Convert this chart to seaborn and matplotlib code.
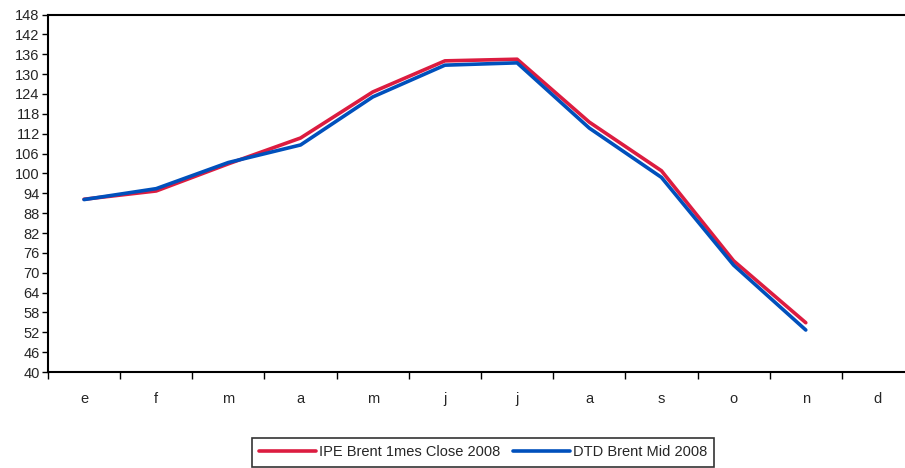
# Brent 2008: IPE vs DTD, mensual

import numpy as np
import pandas as pd
import matplotlib
matplotlib.use("Agg")
import matplotlib.pyplot as plt
from matplotlib.ticker import FixedLocator
import seaborn as sns

meses = ["e", "f", "m", "a", "m", "j", "j", "a", "s", "o", "n", "d"]
ipe_brent = [92.2, 94.7, 102.9, 110.7, 124.6, 134.0, 134.5, 115.5, 100.8, 73.6, 54.9, np.nan]
dtd_brent = [92.1, 95.4, 103.3, 108.6, 123.1, 132.7, 133.4, 113.7, 98.8, 72.3, 52.7, np.nan]
series = ["IPE Brent 1mes Close 2008", "DTD Brent Mid 2008"]
yticks = list(range(40, 149, 6))

df = pd.DataFrame({
    "pos": list(range(12)) * 2,
    "valor": ipe_brent + dtd_brent,
    "serie": [series[0]] * 12 + [series[1]] * 12,
})

sns.set_style("white")
plt.rcParams["font.family"] = ["Liberation Sans", "DejaVu Sans"]

fig = plt.figure(figsize=(9.05, 4.68), dpi=100)
# el eje sigue un poco fuera de la imagen por la derecha, como en el original
ax = fig.add_axes([0.053, 0.205, 0.957, 0.764])

sns.lineplot(data=df, x="pos", y="valor", hue="serie", ax=ax,
             palette={series[0]: "#DC1C40", series[1]: "#0050BC"},
             linewidth=2.6, legend=True)

ax.set_xlim(-0.5, 11.5)
ax.set_ylim(40, 148)
ax.set_yticks(yticks)
ax.set_yticklabels([str(t) for t in yticks], fontsize=10.5)
ax.set_xticks(range(12))
ax.set_xticklabels(meses, fontsize=10.5)
ax.xaxis.set_minor_locator(FixedLocator(np.arange(-0.5, 12, 1)))
ax.tick_params(axis="x", which="major", length=0, pad=14)
ax.tick_params(axis="x", which="minor", length=5, width=1, direction="out", color="black", bottom=True)
ax.tick_params(axis="y", length=4, width=1, direction="out", color="black", left=True, pad=2)
ax.set_xlabel("")
ax.set_ylabel("")
for s in ax.spines.values():
    s.set_color("black")
    s.set_linewidth(1.5)

handles, labels = ax.get_legend_handles_labels()
ax.get_legend().remove()
leg = fig.legend(handles, labels, loc="upper center", bbox_to_anchor=(483 / 905, 1 - 438 / 468),
                 ncol=2, frameon=True, fancybox=False, fontsize=10.5, handlelength=3.9,
                 handletextpad=0.2, columnspacing=0.9, borderpad=0.5,
                 borderaxespad=0)
leg.get_frame().set_edgecolor("black")
leg.get_frame().set_linewidth(1.2)

fig.savefig("out.png", dpi=100)
